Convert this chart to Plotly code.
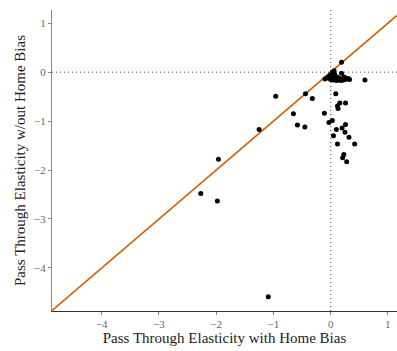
import plotly.graph_objects as go

# Data: pass-through elasticity with home bias (x) vs without home bias (y)
with_home_bias = [
    -1.09, -1.96, -2.27, -1.98, -1.25, -0.96, -0.65, -0.58, -0.45, -0.44,
    -0.32, 0.09, -0.11, 0.16, 0.26, 0.12, 0.13, -0.03, 0.03, 0.26,
    0.20, 0.10, 0.25, 0.05, 0.32, 0.42, 0.12, 0.23, 0.21, 0.28,
    0.19, 0.60, 0.19, 0.06, 0.03,
    -0.10, -0.07, -0.04, -0.02, 0.00, 0.02, 0.04, 0.06, 0.08, 0.10,
    0.12, 0.14, 0.16, 0.18, 0.20, 0.22, 0.25, 0.28, 0.31, 0.33,
    -0.01, 0.03, 0.07, 0.11, 0.15, 0.24,
]
without_home_bias = [
    -4.59, -1.78, -2.48, -2.63, -1.17, -0.49, -0.85, -1.08, -1.12, -0.44,
    -0.54, -0.44, -0.84, -0.63, -0.63, -0.69, -0.74, -1.03, -0.99, -1.07,
    -1.14, -1.17, -1.23, -1.30, -1.33, -1.47, -1.47, -1.68, -1.75, -1.83,
    0.20, -0.16, -0.02, 0.03, 0.00,
    -0.14, -0.12, -0.10, -0.12, -0.15, -0.13, -0.16, -0.14, -0.15, -0.17,
    -0.14, -0.16, -0.15, -0.17, -0.14, -0.16, -0.15, -0.14, -0.13, -0.15,
    -0.06, -0.08, -0.05, -0.10, -0.12, -0.10,
]

x_ticks = [-4, -3, -2, -1, 0, 1]
y_ticks = [-4, -3, -2, -1, 0, 1]
x_range = [-4.87, 1.16]
y_range = [-4.88, 1.27]

fig = go.Figure()

fig.add_trace(go.Scatter(
    x=x_range, y=x_range, mode="lines",
    line=dict(color="#D55E00", width=1.6),
    hoverinfo="skip", showlegend=False,
))

fig.add_trace(go.Scatter(
    x=with_home_bias, y=without_home_bias, mode="markers",
    marker=dict(color="black", size=5),
    showlegend=False,
))

dot = dict(color="#666666", width=1.3, dash="1px,3px")
fig.add_shape(type="line", xref="x", yref="paper", x0=0, x1=0, y0=0, y1=1,
              line=dot, layer="below")
fig.add_shape(type="line", xref="paper", yref="y", x0=0, x1=1, y0=0, y1=0,
              line=dot, layer="below")

serif = "Liberation Serif, DejaVu Serif, serif"
fig.update_layout(
    width=397, height=351,
    margin=dict(l=52, r=0, t=10, b=40),
    paper_bgcolor="white", plot_bgcolor="white",
    font=dict(family=serif, color="#222222"),
    xaxis=dict(
        range=x_range, tickvals=x_ticks, showgrid=False, zeroline=False,
        showline=True, linecolor="#333333", linewidth=1.2,
        ticks="outside", ticklen=3, tickcolor="#888888",
        tickfont=dict(size=11, color="#666666", family=serif),
        title=dict(text="Pass Through Elasticity with Home Bias",
                   font=dict(size=15, color="#222222", family=serif), standoff=2),
    ),
    yaxis=dict(
        range=y_range, tickvals=y_ticks, showgrid=False, zeroline=False,
        showline=True, linecolor="#888888", linewidth=1.2,
        ticks="outside", ticklen=3, tickcolor="#888888",
        tickfont=dict(size=11, color="#666666", family=serif),
        title=dict(text="Pass Through Elasticity w/out Home Bias",
                   font=dict(size=15, color="#222222", family=serif), standoff=4),
    ),
)

fig.write_html("out.html")
